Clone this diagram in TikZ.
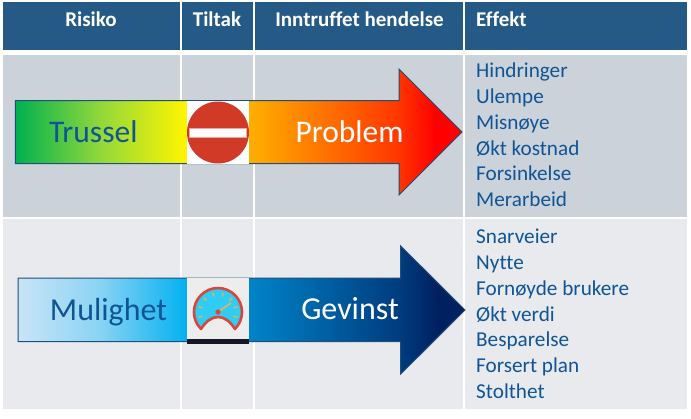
\documentclass[tikz,border=0pt]{standalone}
\usepackage{fontspec}
\setmainfont[Ligatures=NoCommon]{Carlito}
\definecolor{thA}{HTML}{00B050}\definecolor{thB}{HTML}{92D83A}\definecolor{thC}{HTML}{FFF500}\definecolor{thD}{HTML}{FFB000}\definecolor{thF}{HTML}{FF3800}\definecolor{thE}{HTML}{FF0000}
\definecolor{chA}{HTML}{C9E4F7}\definecolor{chM}{HTML}{8AD4F4}\definecolor{chB}{HTML}{00B0F0}\definecolor{chC}{HTML}{0083C8}\definecolor{chF}{HTML}{003C7E}\definecolor{chD}{HTML}{002060}
\definecolor{hdr}{HTML}{255A87}\definecolor{rowA}{HTML}{CBD2DA}\definecolor{rowB}{HTML}{E8EAEE}
\definecolor{txt}{HTML}{0F5596}\definecolor{edge}{HTML}{1F4E79}\definecolor{stopred}{HTML}{D03A26}
\definecolor{gaugeblue}{HTML}{2FCDF3}\definecolor{gaugered}{HTML}{D9473A}\definecolor{tick}{HTML}{D8B56A}\definecolor{darkstrip}{HTML}{14162A}
\pgfdeclarehorizontalshading{threat}{100bp}{
 color(0bp)=(thA); color(25bp)=(thA); color(34.5bp)=(thB); color(44.1bp)=(thC); color(51bp)=(thD); color(67.7bp)=(thF); color(72bp)=(thE); color(100bp)=(thE)}
\pgfdeclarehorizontalshading{chance}{100bp}{
 color(0bp)=(chA); color(25bp)=(chA); color(34bp)=(chM); color(44.1bp)=(chB); color(51bp)=(chC); color(67.7bp)=(chF); color(72bp)=(chD); color(100bp)=(chD)}
\tikzset{
 headtext/.style={font=\fontsize{21}{22}\selectfont\bfseries,text=white,inner sep=0pt,anchor=base},
 listtext/.style={font=\fontsize{21.2}{22}\selectfont,text=txt,inner sep=0pt,anchor=base west},
 bigtext/.style={font=\fontsize{32}{33}\selectfont,inner sep=0pt,anchor=base},
 arrowshape/.style={draw=edge,line width=1pt,line join=miter},
}
\begin{document}
\begin{tikzpicture}[x=1pt,y=-1pt]
\useasboundingbox (0,0) rectangle (691,418);
% header
\foreach \a/\b in {2.5/180,181.7/253.3,254.7/463.3,465/687}{
 \fill[hdr] (\a,2) rectangle (\b,49.5);
 \fill[rowA] (\a,55) rectangle (\b,217.3);
 \fill[rowB] (\a,218.7) rectangle (\b,409);
}
\node[headtext] (h1) at (91,26.5) {Risiko};
\node[headtext] (h2) at (217,26.5) {Tiltak};
\node[headtext] (h3) at (359.5,26.5) {Inntruffet hendelse};
\node[headtext,anchor=base west] (h4) at (476,26.5) {Effekt};
% threat arrow
\path[arrowshape,shading=threat] (15.3,100.7) -- (399,100.7) -- (399,69) -- (462,132) -- (399,195) -- (399,163.7) -- (15.3,163.7) -- cycle;
\fill[white] (186.5,101) rectangle (249,163.5);
\fill[stopred] (218,132.5) circle (31);
\fill[white,draw=stopred!45!white,line width=0.8pt] (189.5,128) rectangle (246,137.5);
\node[bigtext,text=txt,font=\fontsize{31.5}{33}\selectfont] (trussel) at (93.3,142.7) {Trussel};
\node[bigtext,text=white,font=\fontsize{31.5}{33}\selectfont] (problem) at (349.5,142.3) {Problem};
% chance arrow
\path[arrowshape,shading=chance] (18,278) -- (400.7,278) -- (400.7,246) -- (465,310) -- (400.7,374) -- (400.7,341.5) -- (18,341.5) -- cycle;
\fill[white!93!black] (186.5,278) rectangle (249,339);
\fill[darkstrip] (186.5,339) rectangle (249,344);
\path[draw=gaugered,line width=2.6pt,fill=gaugeblue,line join=round]
 (201,329) arc[start angle=135,end angle=405,radius=24] .. controls (230,321) and (224,317) .. (218,317) .. controls (212,317) and (206,321) .. (201,329) -- cycle;
\foreach \ang in {-15,15,45,75,105,135,165,195}{
 \draw[tick,line width=1.5pt] ({218+16*cos(\ang)},{312-16*sin(\ang)}) -- ({218+20*cos(\ang)},{312-20*sin(\ang)});
}
\draw[tick,line width=1.8pt] (218,312) -- (231,303);
\fill[gaugered] (218,312) circle (2.6);
\node[bigtext,text=txt] (mulighet) at (108.5,320.5) {Mulighet};
\node[bigtext,text=white] (gevinst) at (350,319.8) {Gevinst};
% lists
\node[listtext] (a1) at (476,77.4) {Hindringer};
\node[listtext] (a2) at (476,103.4) {Ulempe};
\node[listtext] (a3) at (476,129.4) {Misnøye};
\node[listtext] (a4) at (476,155.4) {Økt kostnad};
\node[listtext] (a5) at (476,180.4) {Forsinkelse};
\node[listtext] (a6) at (476,206.4) {Merarbeid};
\node[listtext] (b1) at (476,243.4) {Snarveier};
\node[listtext] (b2) at (476,269.4) {Nytte};
\node[listtext] (b3) at (476,295.4) {Fornøyde brukere};
\node[listtext] (b4) at (476,321.4) {Økt verdi};
\node[listtext] (b5) at (476,346.4) {Besparelse};
\node[listtext] (b6) at (476,372.4) {Forsert plan};
\node[listtext] (b7) at (476,398.4) {Stolthet};
\end{tikzpicture}
\end{document}
